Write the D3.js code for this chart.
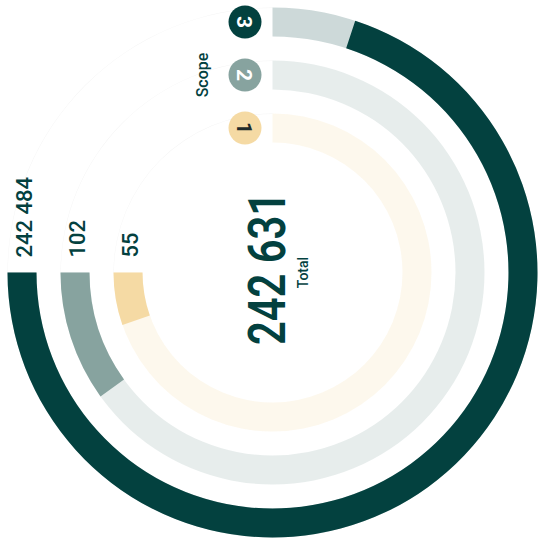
<!DOCTYPE html>
<html>
<head>
<meta charset="utf-8">
<script src="https://cdn.jsdelivr.net/npm/d3@7/dist/d3.min.js"></script>
<style>
  html, body { margin: 0; padding: 0; background: #ffffff; }
  svg { display: block; }
  text { font-family: Roboto, "Noto Sans", sans-serif; }
</style>
</head>
<body>
<svg id="chart" width="539" height="539"></svg>
<script>
// ---- data ----
const scopes = ["1", "2", "3"];
const values = [55, 102, 242484];
const scaleMax = [770, 770, 260000];
const barColors = ["#F5DAA4", "#87A39F", "#03413F"];
const numberColors = ["#1f2a2a", "#ffffff", "#ffffff"];
const totalValue = 242631;
const totalLabel = "Total";
const scopeTitle = "Scope";

// ---- layout ----
const W = 539, H = 539;
const cx = 272.5, cy = 272.5;
const dark = "#03413F";
const fmt = d3.formatLocale({decimal: ".", thousands: "\u00a0", grouping: [3], currency: ["", ""]}).format(",d");

const svg = d3.select("#chart");
const g = svg.append("g").attr("transform", `translate(${cx},${cy})`);

const rScale = d3.scaleBand().domain(scopes).range([130, 265]).paddingInner(0.453).paddingOuter(0);

const startAngle = 1.5 * Math.PI; // 9 o'clock
const endTrack = 0;               // 12 o'clock

const arc = d3.arc();

scopes.forEach((s, i) => {
  const r0 = rScale(s), r1 = r0 + rScale.bandwidth();
  const ang = d3.scaleLinear().domain([0, scaleMax[i]]).range([startAngle, endTrack]);
  // faint guide on remaining quarter
  g.append("path")
    .attr("d", d3.arc()({innerRadius: r1 - 0.4, outerRadius: r1, startAngle: startAngle, endAngle: 2 * Math.PI}))
    .attr("fill", "#f4f4f4");
  // track
  g.append("path")
    .attr("d", arc({innerRadius: r0, outerRadius: r1, startAngle: endTrack, endAngle: startAngle}))
    .attr("fill", barColors[i]).attr("fill-opacity", 0.2);
  // bar
  g.append("path")
    .attr("d", arc({innerRadius: r0, outerRadius: r1, startAngle: ang(values[i]), endAngle: startAngle}))
    .attr("fill", barColors[i]);
  const mid = (r0 + r1) / 2;
  // value label at 9 o'clock, reading upward
  g.append("text")
    .attr("transform", `translate(${-mid + 10},${-15}) rotate(-90)`)
    .attr("text-anchor", "start")
    .attr("font-size", 22)
    .attr("font-weight", 500)
    .attr("fill", dark)
    .text(fmt(values[i]));
  // scope circle near 12 o'clock
  g.append("circle")
    .attr("cx", -27.5).attr("cy", -mid).attr("r", 16.5)
    .attr("fill", barColors[i]);
  g.append("text")
    .attr("transform", `translate(${-27.5},${-mid}) rotate(90)`)
    .attr("text-anchor", "middle")
    .attr("dy", "0.36em")
    .attr("font-size", 21)
    .attr("font-weight", 700)
    .attr("fill", numberColors[i])
    .text(s);
});

// Scope title
const midScope = rScale("2") + rScale.bandwidth() / 2;
g.append("text")
  .attr("transform", `translate(${208 - cx},${-midScope}) rotate(-90)`)
  .attr("text-anchor", "middle")
  .attr("font-size", 16)
  .attr("font-weight", 500)
  .attr("fill", dark)
  .text(scopeTitle);

// Total
g.append("text")
  .attr("transform", `translate(${285 - cx},${268.5 - cy}) rotate(-90)`)
  .attr("text-anchor", "middle")
  .attr("font-size", 52)
  .attr("font-weight", 600)
  .attr("fill", dark)
  .attr("textLength", 153)
  .attr("lengthAdjust", "spacingAndGlyphs")
  .text(fmt(totalValue));
g.append("text")
  .attr("transform", `translate(${308 - cx},${272.5 - cy}) rotate(-90)`)
  .attr("text-anchor", "middle")
  .attr("font-size", 14)
  .attr("font-weight", 500)
  .attr("fill", dark)
  .text(totalLabel);
</script>
</body>
</html>
